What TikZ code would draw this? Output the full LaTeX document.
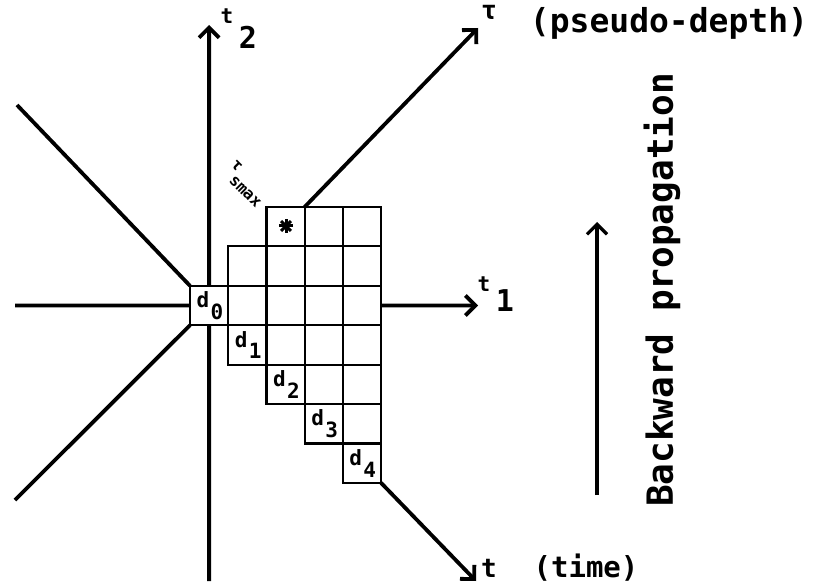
\documentclass[tikz,border=0pt]{standalone}
\usepackage{fontspec}
\newfontfamily\lblfont{DejaVu Sans Mono}
\usetikzlibrary{arrows.meta}
\newcommand{\fs}[1]{\fontsize{#1}{#1}\selectfont}
\begin{document}
\begin{tikzpicture}[x=1pt,y=-1pt,
  axis/.style={line width=3.8pt, line cap=butt},
  arrowline/.style={line width=3.2pt},
  tipped/.style={-{Straight Barb[length=10pt,width=20pt]}},
  cellbox/.style={draw, line width=2.2pt, minimum width=38.2pt, minimum height=39.4pt,
    inner sep=0pt, outer sep=0pt, anchor=north west},
  txt/.style={inner sep=0pt, outer sep=0pt},
  dname/.style={txt, font=\lblfont\bfseries\fs{21}},
]
\fill[white] (0,0) rectangle (814,588);
\useasboundingbox (0,0) rectangle (814,588);

% grid of cells: row / list of columns
\foreach \r/\cs in {0/{2,3,4},1/{1,2,3,4},2/{0,1,2,3,4},3/{1,2,3,4},4/{2,3,4},5/{3,4},6/{4}}{
  \foreach \c in \cs {
    \node[cellbox] (cell-\r-\c) at ({190+\c*38.2},{207+\r*39.4}) {};
  }
}

% end points of the axes and rays
\coordinate (t2tip) at (209.1,25);
\coordinate (vbot) at (209.1,581);
\coordinate (t1tip) at (478,305.5);
\coordinate (hleft) at (15,305.5);
\coordinate (ulray) at (17,105);
\coordinate (llray) at (15,500);
\coordinate (tautip) at (478,28);
\coordinate (ttip) at (476,581);

\draw[axis,tipped] (cell-2-0.north) -- (t2tip);
\draw[axis] (cell-2-0.south) -- (vbot);
\draw[axis] (cell-2-0.west) -- (hleft);
\draw[axis,tipped] (cell-2-4.east) -- (t1tip);
\draw[axis] (cell-2-0.north west) -- (ulray);
\draw[axis] (cell-2-0.south west) -- (llray);
\draw[axis,tipped] (cell-0-3.north west) -- (tautip);
\draw[axis,tipped] (cell-6-4.south east) -- (ttip);

% asterisk in the top cell
\begin{scope}[shift={(286,226)}]
  \foreach \a in {0,45,90,135}{
    \draw[line width=3pt] (\a:7) -- (\a+180:7);
  }
\end{scope}

% data labels d_k on the diagonal
\foreach \k in {0,...,4}{
  \pgfmathtruncatemacro{\rr}{\k+2}
  \node[dname] (d\k) at ([xshift=13pt,yshift=-14pt]cell-\rr-\k.north west) {d};
  \node[dname] (d\k-sub) at ([xshift=27pt,yshift=-26pt]cell-\rr-\k.north west) {\k};
}

% axis labels
\node[txt, font=\lblfont\bfseries\fs{21}] (t2a) at (227,16) {t};
\node[txt, font=\lblfont\bfseries\fs{30}] (t2b) at (248,37) {2};
\node[txt, font=\lblfont\bfseries\fs{21}] (t1a) at (484,284) {t};
\node[txt, font=\lblfont\bfseries\fs{30}] (t1b) at (505,301) {1};
\node[txt, font=\lblfont\bfseries\fs{26}] (taua) at (489,12) {τ};
\node[txt, font=\lblfont\bfseries\fs{33}] (taub) at (669,23.5) {(pseudo-depth)};
\node[txt, font=\lblfont\bfseries\fs{26}] (ta) at (489,568) {t};
\node[txt, font=\lblfont\bfseries\fs{29}] (tb) at (586,568) {(time)};

% tau_smax label, written along the diagonal
\node[txt, font=\lblfont\bfseries\fs{16}, rotate=-45, anchor=base west] (smax)
  at (230,166) {τ\raisebox{-12pt}{smax}};

% propagation direction
\coordinate (bpstart) at (597,495);
\coordinate (bpend) at (597,222);
\draw[arrowline,tipped] (bpstart) -- (bpend);
\node[txt, font=\lblfont\bfseries\fs{36}, rotate=90] (bp) at (662,290) {Backward propagation};
\end{tikzpicture}
\end{document}
